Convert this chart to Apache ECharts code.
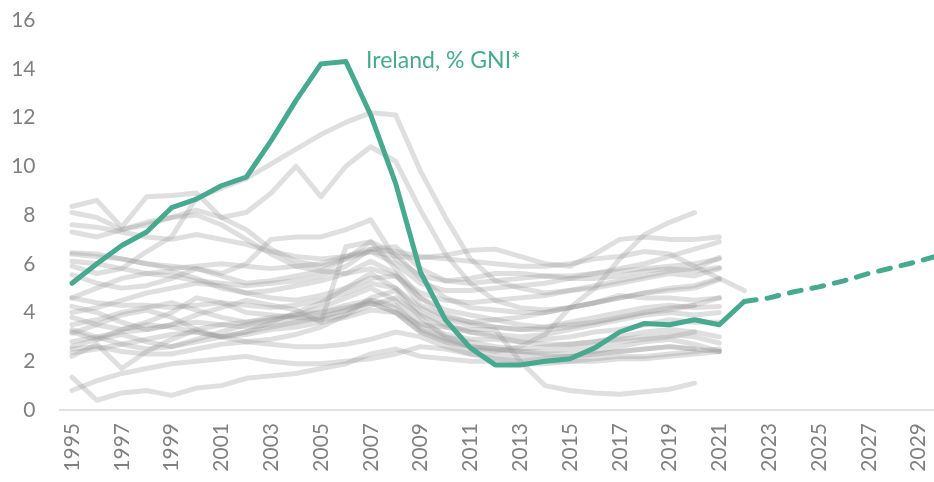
<!DOCTYPE html>
<html>
<head>
<meta charset="utf-8">
<script src="https://cdn.jsdelivr.net/npm/echarts@6/dist/echarts.min.js"></script>
<style>
  html, body { margin: 0; padding: 0; background: #fff; }
  #chart { width: 934px; height: 482px; }
</style>
</head>
<body>
<div id="chart"></div>
<script>
// years on the x axis (2030 sits just past the right edge)
const years = ['1995','1996','1997','1998','1999','2000','2001','2002','2003','2004',
  '2005','2006','2007','2008','2009','2010','2011','2012','2013','2014','2015','2016',
  '2017','2018','2019','2020','2021','2022','2023','2024','2025','2026','2027','2028',
  '2029','2030']

// Ireland, % GNI*, 1995-2022
const ireland = [5.2, 6.0, 6.75, 7.3, 8.3, 8.65, 9.2, 9.55, 11.05, 12.7, 14.2, 14.3, 12.1,
  9.3, 5.65, 3.7, 2.55, 1.85, 1.85, 2.0, 2.1, 2.55, 3.2, 3.55, 3.5, 3.7, 3.5, 4.45]

// projection 2022-2030
const irelandProjection = [4.45, 4.6, 4.85, 5.05, 5.3, 5.6, 5.85, 6.1, 6.4]

// other countries, 1995 onwards
const peers = [
  [5.9,5.6,5.8,6.5,7.1,8.7,9.1,9.5,10.1,10.7,11.3,11.8,12.2,12.1,9.8,7.9,6.2,5.3,5.0,4.8,4.9,5.0,5.2,5.4,5.6,5.5,5.8],
  [8.35,8.6,7.5,8.75,8.8,8.9,7.9,8.1,8.9,10.0,8.75,10.0,10.8,10.2,8.2,6.4,5.2,4.5,4.2,4.1,4.2,4.4,4.6,4.8,5.0,5.1,5.4],
  [8.1,7.9,7.4,7.7,7.9,8.2,7.9,7.4,6.6,6.1,5.9,6.2,6.5,6.0,5.2,4.9,4.9,5.0,5.1,5.2,5.4,5.6,5.8,6.0,6.3,6.6,6.9],
  [7.6,7.5,7.3,7.1,7.0,7.2,7.0,6.8,6.5,6.3,6.2,6.3,6.5,6.3,6.25,6.35,6.55,6.6,6.3,6.0,5.9,6.4,7.0,7.1,7.0,7.0,7.1],
  [7.3,7.1,7.4,7.6,7.9,8.0,7.6,7.0,6.4,5.9,5.7,5.6,5.8,5.5,4.8,4.5,4.4,4.5,4.6,4.7,4.9,5.1,5.3,5.5,5.7,5.8,6.25],
  [6.45,6.4,6.2,6.0,5.9,5.8,5.6,6.0,7.0,7.1,7.1,7.4,7.8,6.2,5.5,5.3,5.4,5.6,5.6,5.5,5.5,5.6,5.7,5.8,5.9,6.0,6.2],
  [6.1,6.0,5.8,5.6,5.5,5.3,5.2,5.1,5.2,5.3,5.5,5.9,6.6,6.7,5.8,5.3,5.2,5.3,5.4,5.5,5.4,5.4,5.5,5.7,5.8,5.7,5.85],
  [5.55,5.2,5.0,5.1,5.4,5.8,5.5,5.2,5.3,5.5,5.7,6.2,6.9,6.4,5.4,4.6,4.2,4.1,4.0,4.0,4.2,4.4,4.6,4.8,4.9,5.0,5.35],
  [4.6,5.0,5.4,5.6,5.7,5.4,5.0,4.8,4.9,5.1,5.3,5.6,6.1,5.6,4.3,3.8,3.6,3.7,3.8,4.0,4.2,4.4,4.7,4.6,4.6,4.5,4.6],
  [4.25,4.0,3.6,3.3,3.5,3.9,4.2,4.5,4.3,4.1,3.6,6.7,6.9,5.8,4.6,3.9,3.6,3.4,3.3,3.4,3.6,3.8,4.0,4.2,4.3,4.2,4.25],
  [3.8,3.5,3.3,3.6,4.0,4.6,4.4,4.0,3.9,3.8,3.7,3.9,4.3,4.6,3.9,3.4,3.2,3.1,3.0,3.1,3.3,3.5,3.7,3.9,4.0,3.9,4.0],
  [3.5,3.7,4.0,4.2,4.4,4.1,3.8,3.6,3.7,3.9,4.2,4.6,5.0,4.5,3.6,3.1,2.9,2.9,2.8,2.9,3.0,3.2,3.3,3.5,3.7,3.6,3.6],
  [3.15,3.5,3.9,4.1,3.8,3.3,3.0,3.2,3.6,4.0,4.4,5.0,5.6,5.0,4.0,3.5,3.2,3.0,2.8,2.7,2.7,2.8,3.0,3.2,3.3,3.2,3.0],
  [2.6,2.9,3.1,2.8,2.6,2.9,3.2,3.5,3.7,3.8,4.0,4.3,4.5,4.2,3.4,3.0,2.8,2.6,2.5,2.6,2.7,2.8,2.9,3.0,3.1,3.0,2.75],
  [2.35,2.5,2.7,2.9,3.1,3.2,3.0,2.8,2.9,3.1,3.4,3.9,4.6,4.9,3.8,3.0,2.6,2.5,2.4,2.3,2.3,2.4,2.6,2.8,2.9,2.7,2.4],
  [2.2,2.7,1.7,2.4,2.9,3.3,3.5,3.6,3.8,3.9,4.0,4.2,4.4,4.0,3.2,2.8,2.5,2.4,2.3,2.2,2.2,2.3,2.4,2.5,2.6,2.5],
  [1.35,0.4,0.7,0.8,0.6,0.9,1.0,1.3,1.4,1.5,1.7,1.9,2.3,2.5,2.2,2.1,2.0,2.0,1.9,1.9,2.0,2.1,2.2,2.2,2.3,2.4,2.5],
  [0.8,1.2,1.5,1.7,1.9,2.0,2.1,2.2,2.0,1.9,1.9,2.0,2.1,2.3,2.6,2.5,2.3,2.2,2.1,2.0,2.0,2.0,2.1,2.1,2.2,2.3,2.4],
  [2.8,3.0,3.2,3.3,3.5,3.6,3.5,3.4,3.5,3.6,3.8,4.1,4.4,4.0,3.5,3.4,3.3,3.3,2.0,1.0,0.8,0.7,0.65,0.75,0.85,1.1],
  [3.3,3.0,2.7,2.5,2.6,2.8,3.0,3.2,3.4,3.6,3.8,4.1,4.5,4.3,3.3,2.9,2.6,2.4,2.6,3.1,4.2,5.0,6.2,7.2,7.7,8.1],
  [6.4,6.3,6.2,6.0,5.8,5.9,6.0,5.9,5.8,5.9,6.0,6.3,6.6,6.5,6.3,6.2,6.1,6.0,5.9,5.9,6.0,6.2,6.3,6.5,6.4,5.9,5.4,4.9],
  [4.6,4.4,4.3,4.3,4.2,4.3,4.4,4.3,4.2,4.3,4.5,4.8,5.2,5.0,4.2,3.7,3.5,3.4,3.3,3.3,3.4,3.6,3.8,4.0,4.2,4.3,4.6],
  [4.0,4.2,4.5,4.8,5.0,5.2,5.1,4.8,4.6,4.5,4.7,5.0,5.4,5.5,4.6,4.1,3.9,3.7,3.5,3.4,3.5,3.6,3.8,4.0,4.1,4.3],
  [3.2,2.9,3.3,3.5,3.4,3.2,3.0,3.1,3.3,3.4,3.6,3.8,4.1,4.0,3.2,2.8,2.6,2.5,2.4,2.4,2.5,2.6,2.8,2.9,3.0,3.2],
  [2.5,2.6,2.4,2.3,2.3,2.5,2.7,2.8,2.7,2.6,2.6,2.7,2.9,3.2,3.0,2.6,2.3,2.1,2.0,2.1,2.2,2.3,2.4,2.5,2.6,2.5,2.4]
]

const teal = '#47a98f'
const greyLine = 'rgba(150,150,150,0.3)'

const peerSeries = peers.map(function (values) {
  return {
    type: 'line',
    data: values,
    symbol: 'none',
    silent: true,
    z: 1,
    lineStyle: { color: greyLine, width: 5, cap: 'round', join: 'round' }
  }
})

const projectionData = Array(ireland.length - 1).fill(null).concat(irelandProjection)

const chart = echarts.init(document.getElementById('chart'))
chart.setOption({
  animation: false,
  grid: { left: 59.5, width: 896.4, top: 20, bottom: 72, outerBoundsMode: 'none', containLabel: false },
  xAxis: {
    type: 'category',
    data: years,
    boundaryGap: true,
    axisLine: { lineStyle: { color: '#d9d9d9', width: 1.5 } },
    axisTick: { show: false },
    axisLabel: { interval: 1, rotate: 90, margin: 13, color: '#808080', fontSize: 21, fontFamily: 'Lato' }
  },
  yAxis: {
    type: 'value',
    min: 0,
    max: 16,
    interval: 2,
    splitLine: { show: false },
    axisLine: { show: false },
    axisTick: { show: false },
    axisLabel: { margin: 24, color: '#808080', fontSize: 21, fontFamily: 'Lato' }
  },
  graphic: [{
    type: 'text',
    left: 366,
    top: 49,
    style: { text: 'Ireland, % GNI*', fill: teal, font: '23px Lato' }
  }],
  series: peerSeries.concat([
    {
      name: 'Ireland',
      type: 'line',
      data: ireland,
      symbol: 'none',
      z: 3,
      lineStyle: { color: teal, width: 5, cap: 'round', join: 'round' }
    },
    {
      name: 'Ireland projection',
      type: 'line',
      data: projectionData,
      symbol: 'none',
      z: 3,
      lineStyle: { color: teal, width: 5, type: [12, 11], cap: 'round' }
    }
  ])
})
</script>
</body>
</html>
